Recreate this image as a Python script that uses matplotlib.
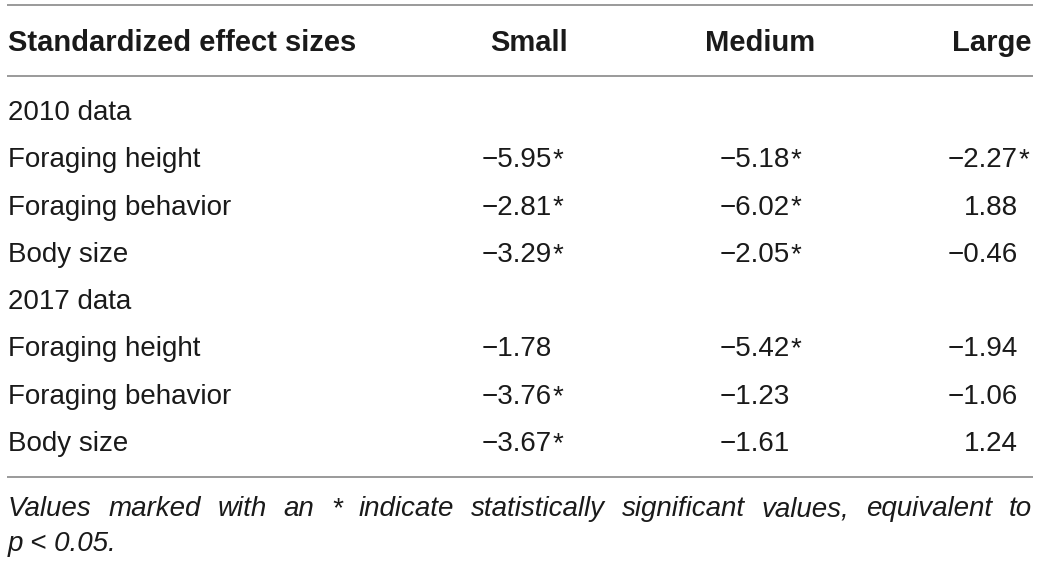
import matplotlib
matplotlib.use("Agg")
from matplotlib import pyplot as plt

# table content
header = ["Standardized effect sizes", "Small", "Medium", "Large"]
groups = ["2010 data", "2017 data"]
row_labels = ["Foraging height", "Foraging behavior", "Body size"]
small_2010 = [-5.95, -2.81, -3.29]
medium_2010 = [-5.18, -6.02, -2.05]
large_2010 = [-2.27, 1.88, -0.46]
small_2017 = [-1.78, -3.76, -3.67]
medium_2017 = [-5.42, -1.23, -1.61]
large_2017 = [-1.94, -1.06, 1.24]
sig_2010 = [[True, True, True], [True, True, False], [True, True, False]]
sig_2017 = [[False, True, False], [True, False, False], [True, False, False]]
footnote = "Values marked with an * indicate statistically significant values, equivalent to"
footnote2 = "p < 0.05."

W, H = 1041, 565
fig = plt.figure(figsize=(W / 100, H / 100), dpi=100)
ax = fig.add_axes([0, 0, 1, 1])
ax.set_xlim(0, W)
ax.set_ylim(H, 0)
ax.axis("off")

FONT = "Liberation Sans"
FS = 20
HFS = 21
TXT = "#1a1a1a"
LINE = "#9a9a9a"

left = 8
right = 1032
col_hdr_right = [568, 815, 1032]
col_num_right = [552, 790, 1018]

# rules
for y in (5, 76, 477):
    ax.plot([left - 1, right + 1], [y, y], color=LINE, lw=1.4, solid_capstyle="butt")

# header
ax.text(left, 43, header[0], ha="left", va="center", fontsize=HFS, fontweight="bold",
        family=FONT, color=TXT)
for x, h in zip(col_hdr_right, header[1:]):
    ax.text(x, 43, h, ha="right", va="center", fontsize=HFS, fontweight="bold",
            family=FONT, color=TXT)


def fmt(v):
    s = "%.2f" % abs(v)
    return ("\u2212" + s) if v < 0 else s


row_y0 = 113
row_dy = 47.3
blocks = [
    (groups[0], [small_2010, medium_2010, large_2010], sig_2010),
    (groups[1], [small_2017, medium_2017, large_2017], sig_2017),
]
r = 0
for name, cols, sig in blocks:
    y = row_y0 + r * row_dy
    ax.text(left, y, name, ha="left", va="center", fontsize=FS, family=FONT, color=TXT)
    r += 1
    for i, lab in enumerate(row_labels):
        y = row_y0 + r * row_dy
        ax.text(left, y, lab, ha="left", va="center", fontsize=FS, family=FONT, color=TXT)
        for c, vals in enumerate(cols):
            ax.text(col_num_right[c], y, fmt(vals[i]), ha="right", va="center",
                    fontsize=FS, family=FONT, color=TXT)
            if sig[i][c]:
                ax.text(col_num_right[c] + 1, y, "*", ha="left", va="center",
                        fontsize=FS, family=FONT, color=TXT)
        r += 1

# justified footnote line (words share one baseline)
renderer = fig.canvas.get_renderer()
inv = ax.transData.inverted()
words = footnote.split(" ")
arts = []
widths = []
for w in words:
    t = ax.text(0, 516, w, ha="left", va="baseline", fontsize=FS, style="italic",
                family=FONT, color=TXT)
    bb = t.get_window_extent(renderer)
    x0 = inv.transform((bb.x0, bb.y0))[0]
    x1 = inv.transform((bb.x1, bb.y0))[0]
    arts.append(t)
    widths.append(x1 - x0)
gap = (right - left - sum(widths)) / (len(words) - 1)
x = left
for t, wd in zip(arts, widths):
    t.set_x(x)
    x += wd + gap

ax.text(left, 551, footnote2, ha="left", va="baseline", fontsize=FS, style="italic",
        family=FONT, color=TXT)

fig.savefig("out.png", dpi=100, facecolor="white")
